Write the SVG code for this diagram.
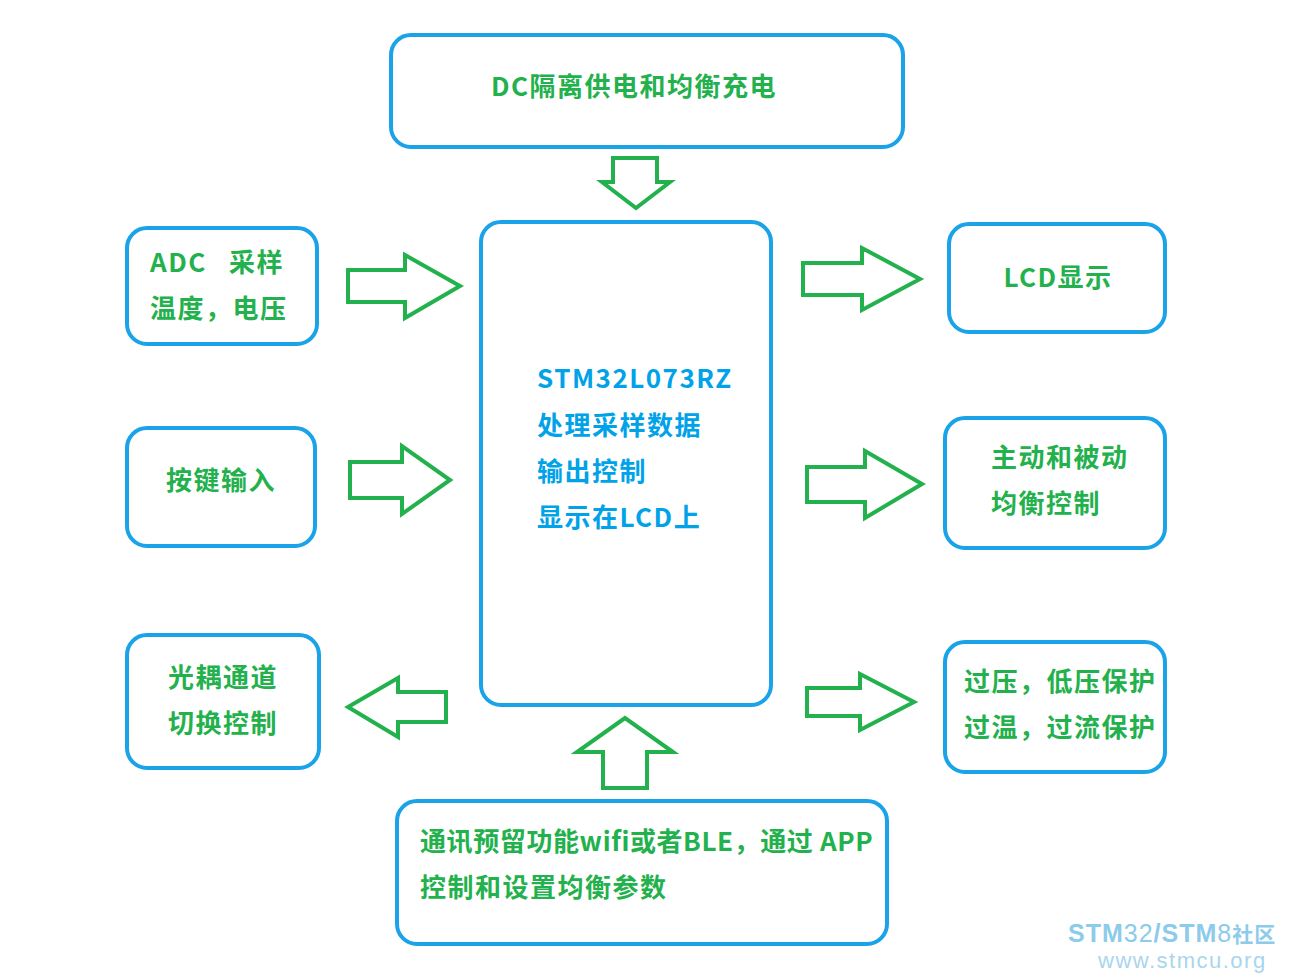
<svg xmlns="http://www.w3.org/2000/svg" width="1306" height="980" viewBox="0 0 1306 980">
<style>
.box{fill:#fff;stroke:#1aa3e8;stroke-width:4}
.ar{fill:#fff;stroke:#22b14c;stroke-width:4;stroke-linejoin:miter}
text{font-family:"Noto Sans CJK SC","Noto Sans",sans-serif;font-weight:bold;font-size:26px;letter-spacing:1.5px;fill:#22b14c}
.c{fill:#00a2e8}
.m{text-anchor:middle}
</style>
<rect width="1306" height="980" fill="#fff"/>
<g id="connectors">
<polygon class="ar" points="613,158 657,158 657,182 670,182 636,208 602,182 613,182"/>
<polygon class="ar" points="348,270 405,270 405,255 460,286 405,318 405,302 348,302"/>
<polygon class="ar" points="350,462 402,462 402,446 450,480 402,514 402,498 350,498"/>
<polygon class="ar" points="446,692 398,692 398,678 348,707 398,737 398,722 446,722"/>
<polygon class="ar" points="603,788 647,788 647,752 673,752 625,718 577,752 603,752"/>
<polygon class="ar" points="803,263 862,263 862,248 920,279 862,310 862,295 803,295"/>
<polygon class="ar" points="807,467 865,467 865,451 922,484 865,518 865,502 807,502"/>
<polygon class="ar" points="807,688 860,688 860,674 914,702 860,730 860,716 807,716"/>
</g>
<g id="top"><rect class="box" x="391" y="35" width="512" height="112" rx="20"/><text class="m" x="634" y="96">DC隔离供电和均衡充电</text></g>
<g id="adc"><rect class="box" x="127" y="228" width="190" height="116" rx="20"/><text x="150" y="272" xml:space="preserve">ADC   采样</text><text x="150" y="318">温度，电压</text></g>
<g id="key"><rect class="box" x="127" y="428" width="188" height="118" rx="20"/><text class="m" x="221" y="490">按键输入</text></g>
<g id="opto"><rect class="box" x="127" y="635" width="192" height="133" rx="20"/><text x="168" y="687">光耦通道</text><text x="168" y="733">切换控制</text></g>
<g id="mcu"><rect class="box" x="481" y="222" width="290" height="483" rx="20"/>
<text class="c" x="537" y="388">STM32L073RZ</text><text class="c" x="537" y="435">处理采样数据</text><text class="c" x="537" y="481">输出控制</text><text class="c" x="537" y="527">显示在LCD上</text></g>
<g id="lcd"><rect class="box" x="949" y="224" width="216" height="108" rx="20"/><text class="m" x="1058" y="287">LCD显示</text></g>
<g id="bal"><rect class="box" x="945" y="418" width="220" height="130" rx="20"/><text x="991" y="467">主动和被动</text><text x="991" y="513">均衡控制</text></g>
<g id="prot"><rect class="box" x="945" y="642" width="220" height="130" rx="20"/><text x="964" y="691">过压，低压保护</text><text x="964" y="737">过温，过流保护</text></g>
<g id="comm"><rect class="box" x="397" y="801" width="490" height="143" rx="20"/><text x="420" y="851" style="letter-spacing:0.6px">通讯预留功能wifi或者BLE，通过 APP</text><text x="420" y="897">控制和设置均衡参数</text></g>
<text x="1068" y="942" style="font-family:'Liberation Sans',sans-serif;font-size:25px;letter-spacing:1px;fill:#8ccbea">STM<tspan style="font-weight:normal">32</tspan>/STM<tspan style="font-weight:normal">8</tspan><tspan style="font-family:'Noto Sans CJK SC';font-size:21px">社区</tspan></text>
<text x="1098" y="968" style="font-family:'Liberation Sans',sans-serif;font-weight:normal;font-size:22px;letter-spacing:1.5px;fill:#a8d6ee">www.stmcu.org</text>
</svg>
